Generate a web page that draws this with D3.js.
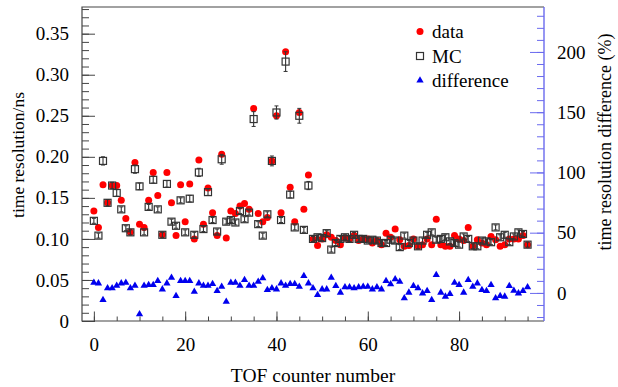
<!DOCTYPE html>
<html><head><meta charset="utf-8">
<script src="https://cdn.jsdelivr.net/npm/d3@7"></script>
<style>
html,body{margin:0;padding:0;background:#fff;}
svg{display:block;font-family:"Liberation Serif","Times New Roman",serif;}
</style></head>
<body>
<svg id="chart" width="618" height="387"></svg>
<script>
// TOF counter numbers 0..95 (index of each value below)
const dataRes = [0.134,0.114,0.166,0.144,0.165,0.165,0.147,0.125,0.108,0.193,
0.118,0.114,0.147,0.181,0.153,0.105,0.181,0.144,0.104,0.166,
0.121,0.167,0.100,0.196,0.118,0.162,0.132,0.104,0.203,0.101,
0.134,0.131,0.140,0.143,0.136,0.259,0.131,0.121,0.126,0.195,
0.250,0.132,0.328,0.163,0.121,0.254,0.136,0.178,0.100,0.092,
0.100,0.105,0.102,0.098,0.093,0.101,0.100,0.104,0.098,0.100,
0.100,0.095,0.098,0.093,0.107,0.102,0.112,0.099,0.091,0.092,
0.100,0.091,0.093,0.100,0.093,0.124,0.093,0.091,0.091,0.104,
0.100,0.098,0.114,0.091,0.099,0.095,0.093,0.103,0.099,0.091,
0.093,0.100,0.100,0.100,0.104,0.093];
const mcRes = [0.122,0.104,0.195,0.144,0.165,0.156,0.136,0.113,0.108,0.185,
0.164,0.108,0.139,0.172,0.136,0.105,0.167,0.121,0.116,0.147,
0.108,0.149,0.105,0.181,0.112,0.157,0.123,0.109,0.197,0.121,
0.123,0.120,0.134,0.124,0.132,0.246,0.118,0.104,0.130,0.195,
0.254,0.123,0.316,0.154,0.114,0.250,0.111,0.165,0.100,0.102,
0.101,0.107,0.087,0.095,0.100,0.102,0.100,0.105,0.100,0.100,
0.098,0.099,0.098,0.095,0.095,0.099,0.098,0.090,0.104,0.095,
0.098,0.091,0.098,0.105,0.108,0.099,0.100,0.102,0.097,0.095,
0.093,0.103,0.100,0.091,0.091,0.098,0.097,0.096,0.114,0.102,
0.105,0.096,0.103,0.108,0.106,0.093];
const mcErr = [0.003,0.003,0.005,0.004,0.004,0.004,0.003,0.003,0.003,0.005,
0.004,0.003,0.003,0.004,0.003,0.003,0.004,0.003,0.003,0.003,
0.003,0.004,0.003,0.005,0.003,0.004,0.003,0.003,0.006,0.003,
0.003,0.003,0.003,0.003,0.003,0.009,0.003,0.003,0.003,0.006,
0.008,0.003,0.012,0.004,0.003,0.009,0.003,0.005,0.003,0.003,
0.003,0.003,0.003,0.003,0.003,0.003,0.003,0.003,0.003,0.003,
0.003,0.003,0.003,0.003,0.003,0.003,0.003,0.003,0.003,0.003,
0.003,0.003,0.003,0.003,0.003,0.003,0.003,0.003,0.003,0.003,
0.003,0.003,0.003,0.003,0.003,0.003,0.003,0.003,0.003,0.003,
0.003,0.003,0.003,0.003,0.003,0.003];
const diffPct = [8.5,8,-5.8,3.9,3.9,6,8,8.5,3.9,6,
-17.7,6,6.6,6.6,10,3,8,12.7,-2.5,10,
10,10,1.1,8,6,6,7.5,1.7,5.2,-7.2,
8.5,8.5,6,10.8,6,6,9.4,12.2,2.5,3.9,
3,8,6,7.5,7.5,5.2,14.1,8,3.9,-1.7,
3,3,12.7,5.8,0.3,4.7,4.7,3.9,4.7,5.2,
5.2,3,4.7,3,10,7.2,11.4,9.4,-4.4,0.3,
5.8,3.9,-0.3,1.7,-5.8,14.9,0.3,-3,-0.8,8.5,
6.6,0.3,10.8,5.2,8,2.5,1.7,6.6,-4.4,-2.5,
-3,5.8,1.9,-0.3,1.7,4.7];

const xTicksMajor = [0,20,40,60,80];
const yTicksMajor = [0,0.05,0.10,0.15,0.20,0.25,0.30,0.35];
const y2TicksMajor = [0,50,100,150,200];
const legendItems = ["data","MC","difference"];

const svg = d3.select("#chart");
const L = 82, R = 544, T = 7, B = 321;
const axisCol = "#444", blueAx = "#6a6aee";
const FF = '"Liberation Serif","Times New Roman",serif';

const x = d3.scaleLinear().domain([-2.6, 98.6]).range([L, R]);
const y = d3.scaleLinear().domain([0, 0.3825]).range([B, T]);
const y2 = d3.scaleLinear().domain([-23.3, 237.3]).range([B, T]);

const xMinor = d3.range(0, 96, 5);
const yMinor = d3.range(0, 0.381, 0.01);
const y2Minor = d3.range(-20, 237, 10);

function styleAxis(g, col, fs){
  g.attr("font-family", FF);
  g.selectAll("line").attr("stroke", col).attr("stroke-width", 1);
  g.selectAll("text").attr("fill", "#000").style("font-size", fs + "px").style("font-family", FF);
}

// Bottom axis
svg.append("g").attr("transform", `translate(0,${B})`)
  .call(d3.axisBottom(x).tickValues(xMinor).tickSize(-4.5).tickSizeOuter(0).tickFormat(""))
  .call(g => { g.select(".domain").remove(); styleAxis(g, axisCol, 19); });
svg.append("g").attr("transform", `translate(0,${B})`)
  .call(d3.axisBottom(x).tickValues(xTicksMajor).tickSize(-9.5).tickSizeOuter(0).tickPadding(16.5).tickFormat(d3.format("d")))
  .call(g => { g.select(".domain").remove(); styleAxis(g, axisCol, 19); });

// Left axis
svg.append("g").attr("transform", `translate(${L},0)`)
  .call(d3.axisLeft(y).tickValues(yMinor).tickSize(-7).tickSizeOuter(0).tickFormat(""))
  .call(g => { g.select(".domain").remove(); styleAxis(g, axisCol, 19); });
svg.append("g").attr("transform", `translate(${L},0)`)
  .call(d3.axisLeft(y).tickValues(yTicksMajor).tickSize(-13).tickSizeOuter(0).tickPadding(13)
    .tickFormat(d => d === 0 ? "0" : d3.format(".2f")(d)))
  .call(g => { g.select(".domain").remove(); styleAxis(g, axisCol, 19); });

// Right axis
svg.append("g").attr("transform", `translate(${R},0)`)
  .call(d3.axisRight(y2).tickValues(y2Minor).tickSize(-7).tickSizeOuter(0).tickFormat(""))
  .call(g => { g.select(".domain").remove(); styleAxis(g, blueAx, 19); });
svg.append("g").attr("transform", `translate(${R},0)`)
  .call(d3.axisRight(y2).tickValues(y2TicksMajor).tickSize(-14).tickSizeOuter(0).tickPadding(13).tickFormat(d3.format("d")))
  .call(g => { g.select(".domain").remove(); styleAxis(g, blueAx, 19); });

// Frame
svg.append("path").attr("d", `M${R},${T}H${L}V${B}H${R}`).attr("fill","none").attr("stroke", axisCol).attr("stroke-width",1.2);
svg.append("line").attr("x1",R).attr("x2",R).attr("y1",T).attr("y2",B).attr("stroke",blueAx).attr("stroke-width",1.4);

// Axis titles
svg.append("text").attr("x", 313).attr("y", 382).attr("text-anchor","middle")
  .style("font-size","19.5px").style("font-family", FF).text("TOF counter number");
svg.append("text").attr("transform","translate(24,155) rotate(-90)").attr("text-anchor","middle")
  .style("font-size","17.5px").style("font-family", FF).text("time resolution/ns");
svg.append("text").attr("transform","translate(611,142) rotate(-90)").attr("text-anchor","middle")
  .style("font-size","18px").style("font-family", FF).text("time resolution difference (%)");

const idx = d3.range(dataRes.length);
const plot = svg.append("g");

// data (red dots)
plot.selectAll("circle.data").data(idx).join("circle").attr("class","data")
  .attr("cx", i => x(i)).attr("cy", i => y(dataRes[i])).attr("r", 3.5).attr("fill", "#ff0000");

// MC error bars + squares
const sq = 7;
plot.selectAll("line.err").data(idx).join("line").attr("class","err")
  .attr("x1", i => x(i)).attr("x2", i => x(i))
  .attr("y1", i => y(mcRes[i] + mcErr[i])).attr("y2", i => y(mcRes[i] - mcErr[i]))
  .attr("stroke", "#333").attr("stroke-width", 1.1);
plot.selectAll("path.cap").data(idx).join("path").attr("class","cap")
  .attr("d", i => { const xx = x(i), a = y(mcRes[i] + mcErr[i]), b = y(mcRes[i] - mcErr[i]);
     return `M${xx-2},${a}H${xx+2}M${xx-2},${b}H${xx+2}`; })
  .attr("stroke", "#333").attr("stroke-width", 1);
plot.selectAll("rect.mc").data(idx).join("rect").attr("class","mc")
  .attr("x", i => x(i) - sq/2).attr("y", i => y(mcRes[i]) - sq/2)
  .attr("width", sq).attr("height", sq).attr("fill","none").attr("stroke","#333").attr("stroke-width",1.2);

// difference (blue triangles)
const tri = d3.symbol().type(d3.symbolTriangle).size(23);
plot.selectAll("path.diff").data(idx).join("path").attr("class","diff")
  .attr("transform", i => `translate(${x(i)},${y2(diffPct[i])})`)
  .attr("d", tri).attr("fill", "#0000ee");

// Legend
const lgX = 420, lgY = [31.5, 56, 80.5];
const lg = svg.append("g");
lg.append("circle").attr("cx", lgX).attr("cy", lgY[0]).attr("r", 3.5).attr("fill","#ff0000");
lg.append("rect").attr("x", lgX - sq/2).attr("y", lgY[1] - sq/2).attr("width", sq).attr("height", sq)
  .attr("fill","none").attr("stroke","#333").attr("stroke-width",1.2);
lg.append("path").attr("transform", `translate(${lgX},${lgY[2]})`).attr("d", tri).attr("fill","#0000ee");
lg.selectAll("text").data(legendItems).join("text")
  .attr("x", lgX + 12).attr("y", (d,i) => lgY[i]).attr("dy","0.35em")
  .style("font-size","19px").style("font-family", FF).text(d => d);
</script>
</body></html>
